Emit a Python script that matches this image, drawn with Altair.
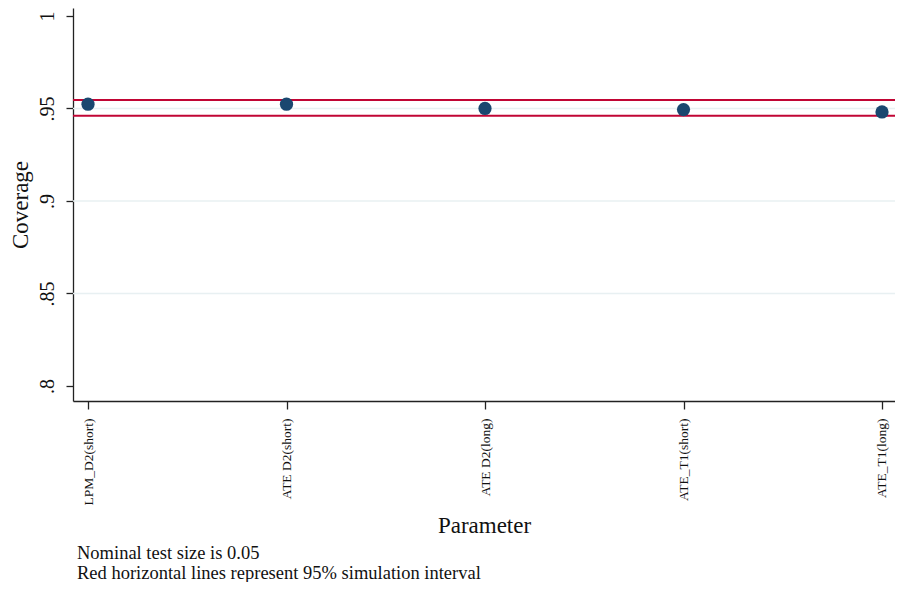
import json
import altair as alt
import pandas as pd

# ---- data ----
parameters = ["LPM_D2(short)", "ATE D2(short)", "ATE D2(long)", "ATE_T1(short)", "ATE_T1(long)"]
coverage = [0.9523, 0.9523, 0.9500, 0.9494, 0.9481]
interval_bounds = [0.9546, 0.9460]
grid_values = [0.85, 0.90, 0.95]
y_ticks = [0.8, 0.85, 0.9, 0.95, 1.0]
notes = ["Nominal test size is 0.05", "Red horizontal lines represent 95% simulation interval"]

pts = pd.DataFrame({"pos": list(range(1, len(parameters) + 1)), "param": parameters, "coverage": coverage})
bounds = pd.DataFrame({"y": interval_bounds})
grid = pd.DataFrame({"y": grid_values})
notes_df = pd.DataFrame({"text": notes, "row": list(range(len(notes)))})

FONT = "Liberation Serif"
label_expr = json.dumps(parameters) + "[datum.value - 1]"

xscale = alt.Scale(domain=[0.9244, 5.0655], nice=False, zero=False)
yscale = alt.Scale(domain=[0.7919, 1.0043], nice=False, zero=False)

x_axis = alt.Axis(
    values=list(range(1, len(parameters) + 1)),
    labelExpr=label_expr,
    labelAngle=-90, labelAlign="right", labelBaseline="middle",
    labelPadding=9, tickSize=8, grid=False, title="Parameter", titlePadding=10,
)
y_axis = alt.Axis(
    values=y_ticks,
    labelExpr="replace(format(datum.value, '.2~f'), '0.', '.')",
    labelAngle=-90, labelAlign="center", labelBaseline="bottom",
    labelPadding=9, tickSize=7, grid=False, title="Coverage", titlePadding=5,
)

gridlines = alt.Chart(grid).mark_rule(color="#E8F0F2", strokeWidth=1.5).encode(
    y=alt.Y("y:Q", scale=yscale, axis=y_axis)
)
redlines = alt.Chart(bounds).mark_rule(color="#C10534", strokeWidth=2).encode(
    y=alt.Y("y:Q", scale=yscale, axis=y_axis)
)
points = alt.Chart(pts).mark_circle(color="#1A476F", opacity=1, size=175).encode(
    x=alt.X("pos:Q", scale=xscale, axis=x_axis),
    y=alt.Y("coverage:Q", scale=yscale, axis=y_axis),
)
note_text = alt.Chart(notes_df).transform_calculate(
    py="545 + 20 * datum.row"
).mark_text(
    align="left", baseline="middle", font=FONT, fontSize=18.5, color="#111"
).encode(
    x=alt.value(4),
    y=alt.Y("py:Q", scale=None),
    text="text:N",
)

chart = alt.layer(gridlines, redlines, points, note_text).properties(
    width=822, height=393,
    autosize=alt.AutoSizeParams(type="none"),
    padding={"left": 65, "top": 0, "right": 0, "bottom": 181},
    background="white",
).configure_view(stroke=None).configure_axis(
    labelFont=FONT, titleFont=FONT, labelColor="#111", titleColor="#111",
    titleFontWeight="normal", tickColor="#222", domainColor="#222",
    tickWidth=1.3, domainWidth=1.3,
).configure_axisX(
    labelFontSize=13.5, titleFontSize=23,
).configure_axisY(
    labelFontSize=20, titleFontSize=23,
)

chart.save("out.html", embed_options={"renderer": "svg", "actions": False})
